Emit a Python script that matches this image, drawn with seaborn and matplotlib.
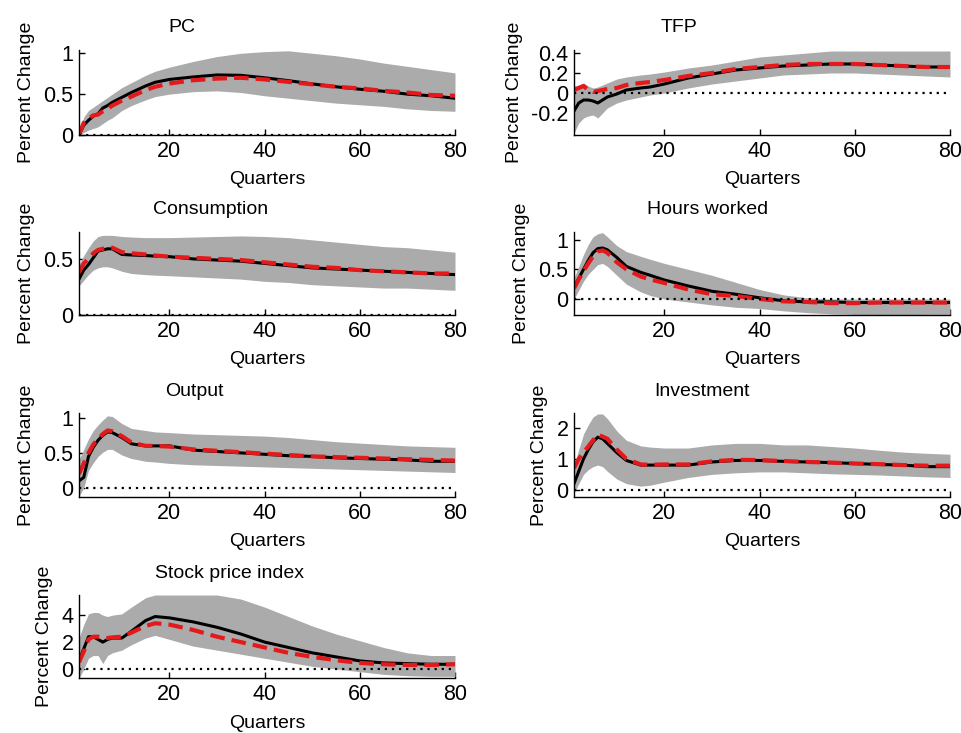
import numpy as np
import pandas as pd
import matplotlib
matplotlib.use("Agg")
import matplotlib.pyplot as plt
import matplotlib.transforms as mtransforms
from matplotlib.ticker import FuncFormatter
import seaborn as sns

# ---------------- data ----------------
quarters = [1, 2, 3, 4, 5, 6, 7, 8, 10, 12, 15, 17, 20, 25, 30, 35, 40, 45, 50, 55, 60, 65, 70, 75, 80]

pc_black = [0.0, 0.12, 0.18, 0.23, 0.26, 0.33, 0.36, 0.40, 0.46, 0.52, 0.60, 0.645, 0.68, 0.71, 0.735, 0.73, 0.70, 0.665, 0.625, 0.59, 0.56, 0.535, 0.50, 0.48, 0.45]
pc_red = [0.0, 0.15, 0.20, 0.24, 0.25, 0.29, 0.32, 0.36, 0.42, 0.47, 0.55, 0.59, 0.63, 0.67, 0.69, 0.70, 0.68, 0.65, 0.62, 0.59, 0.57, 0.54, 0.52, 0.49, 0.48]
pc_hi = [0.0, 0.22, 0.30, 0.34, 0.38, 0.42, 0.46, 0.50, 0.58, 0.64, 0.73, 0.78, 0.83, 0.90, 0.96, 1.00, 1.02, 1.03, 1.00, 0.97, 0.93, 0.88, 0.84, 0.80, 0.76]
pc_lo = [0.0, 0.03, 0.06, 0.08, 0.10, 0.14, 0.18, 0.21, 0.30, 0.36, 0.43, 0.47, 0.50, 0.53, 0.54, 0.52, 0.48, 0.45, 0.42, 0.39, 0.37, 0.35, 0.32, 0.30, 0.29]

tfp_black = [-0.18, -0.10, -0.07, -0.07, -0.08, -0.10, -0.07, -0.04, -0.01, 0.03, 0.05, 0.06, 0.09, 0.15, 0.19, 0.23, 0.25, 0.27, 0.28, 0.29, 0.29, 0.28, 0.27, 0.26, 0.26]
tfp_red = [0.03, 0.05, 0.07, 0.03, 0.01, 0.02, 0.03, 0.04, 0.05, 0.08, 0.10, 0.11, 0.13, 0.17, 0.20, 0.24, 0.26, 0.28, 0.29, 0.29, 0.29, 0.28, 0.27, 0.26, 0.26]
tfp_hi = [0.07, 0.08, 0.10, 0.07, 0.05, 0.06, 0.08, 0.10, 0.14, 0.16, 0.18, 0.19, 0.21, 0.25, 0.28, 0.32, 0.36, 0.38, 0.40, 0.42, 0.42, 0.42, 0.42, 0.42, 0.42]
tfp_lo = [-0.40, -0.30, -0.25, -0.23, -0.22, -0.25, -0.20, -0.15, -0.10, -0.07, -0.04, -0.02, 0.0, 0.05, 0.09, 0.12, 0.15, 0.18, 0.19, 0.20, 0.20, 0.19, 0.18, 0.17, 0.16]

cons_black = [0.32, 0.40, 0.45, 0.51, 0.57, 0.58, 0.59, 0.59, 0.54, 0.535, 0.53, 0.525, 0.52, 0.50, 0.49, 0.48, 0.46, 0.44, 0.42, 0.41, 0.40, 0.39, 0.38, 0.37, 0.36]
cons_red = [0.38, 0.46, 0.50, 0.55, 0.58, 0.59, 0.60, 0.60, 0.56, 0.55, 0.54, 0.53, 0.52, 0.51, 0.50, 0.49, 0.47, 0.45, 0.43, 0.42, 0.40, 0.39, 0.38, 0.37, 0.37]
cons_hi = [0.45, 0.53, 0.60, 0.66, 0.70, 0.71, 0.71, 0.71, 0.70, 0.695, 0.69, 0.69, 0.69, 0.695, 0.70, 0.705, 0.70, 0.69, 0.67, 0.65, 0.63, 0.61, 0.60, 0.58, 0.56]
cons_lo = [0.26, 0.31, 0.36, 0.40, 0.42, 0.43, 0.43, 0.42, 0.39, 0.37, 0.36, 0.355, 0.35, 0.34, 0.33, 0.32, 0.30, 0.29, 0.27, 0.26, 0.25, 0.24, 0.24, 0.23, 0.22]

hours_black = [0.20, 0.35, 0.50, 0.65, 0.78, 0.85, 0.86, 0.83, 0.70, 0.55, 0.45, 0.40, 0.32, 0.22, 0.13, 0.08, 0.02, -0.03, -0.05, -0.05, -0.06, -0.06, -0.06, -0.06, -0.06]
hours_red = [0.18, 0.33, 0.47, 0.60, 0.72, 0.80, 0.82, 0.78, 0.62, 0.50, 0.38, 0.33, 0.27, 0.16, 0.08, 0.05, 0.0, -0.04, -0.05, -0.07, -0.07, -0.06, -0.06, -0.06, -0.06]
hours_hi = [0.35, 0.55, 0.75, 0.92, 1.05, 1.10, 1.12, 1.05, 0.90, 0.80, 0.72, 0.67, 0.60, 0.50, 0.40, 0.28, 0.16, 0.07, 0.02, 0.0, 0.0, 0.0, 0.0, 0.0, 0.0]
hours_lo = [0.0, 0.15, 0.30, 0.42, 0.50, 0.58, 0.60, 0.55, 0.40, 0.25, 0.12, 0.06, 0.0, -0.05, -0.10, -0.14, -0.16, -0.20, -0.23, -0.25, -0.26, -0.27, -0.27, -0.26, -0.26]

out_black = [0.10, 0.15, 0.45, 0.58, 0.68, 0.75, 0.80, 0.79, 0.72, 0.63, 0.60, 0.60, 0.60, 0.54, 0.52, 0.50, 0.48, 0.46, 0.45, 0.43, 0.42, 0.41, 0.40, 0.38, 0.38]
out_red = [0.20, 0.35, 0.50, 0.62, 0.70, 0.77, 0.82, 0.81, 0.74, 0.65, 0.60, 0.60, 0.59, 0.55, 0.53, 0.51, 0.49, 0.47, 0.45, 0.44, 0.43, 0.42, 0.41, 0.40, 0.39]
out_hi = [0.40, 0.55, 0.70, 0.82, 0.90, 0.97, 1.03, 1.02, 0.92, 0.85, 0.82, 0.80, 0.79, 0.77, 0.76, 0.75, 0.74, 0.72, 0.69, 0.66, 0.64, 0.62, 0.60, 0.59, 0.58]
out_lo = [-0.12, 0.0, 0.25, 0.36, 0.45, 0.51, 0.55, 0.55, 0.47, 0.42, 0.38, 0.37, 0.35, 0.33, 0.32, 0.31, 0.30, 0.29, 0.28, 0.27, 0.26, 0.25, 0.24, 0.23, 0.22]

inv_black = [0.20, 0.60, 1.00, 1.30, 1.55, 1.70, 1.65, 1.50, 1.20, 0.95, 0.80, 0.80, 0.80, 0.80, 0.90, 0.95, 0.95, 0.92, 0.90, 0.88, 0.85, 0.82, 0.80, 0.75, 0.75]
inv_red = [0.70, 1.00, 1.20, 1.40, 1.60, 1.78, 1.72, 1.65, 1.30, 1.00, 0.82, 0.81, 0.82, 0.82, 0.92, 0.97, 0.96, 0.93, 0.90, 0.88, 0.85, 0.83, 0.80, 0.78, 0.78]
inv_hi = [0.80, 1.30, 1.80, 2.10, 2.35, 2.45, 2.45, 2.30, 1.90, 1.60, 1.42, 1.38, 1.35, 1.35, 1.45, 1.50, 1.50, 1.45, 1.45, 1.40, 1.35, 1.28, 1.22, 1.18, 1.15]
inv_lo = [-0.10, 0.20, 0.50, 0.65, 0.75, 0.80, 0.75, 0.60, 0.35, 0.20, 0.12, 0.15, 0.25, 0.40, 0.50, 0.55, 0.58, 0.58, 0.55, 0.52, 0.50, 0.48, 0.45, 0.42, 0.40]

stock_black = [0.6, 1.5, 2.4, 2.4, 2.2, 2.0, 2.2, 2.3, 2.3, 2.8, 3.6, 3.9, 3.8, 3.5, 3.1, 2.6, 2.0, 1.6, 1.2, 0.9, 0.6, 0.45, 0.4, 0.35, 0.35]
stock_red = [0.5, 1.3, 2.2, 2.4, 2.4, 2.35, 2.3, 2.35, 2.4, 2.7, 3.2, 3.4, 3.3, 2.9, 2.4, 2.0, 1.6, 1.2, 0.9, 0.65, 0.45, 0.35, 0.3, 0.3, 0.35]
stock_hi = [2.3, 3.3, 4.1, 4.2, 4.2, 4.0, 3.9, 4.0, 4.1, 4.6, 5.3, 5.5, 5.5, 5.5, 5.5, 5.2, 4.6, 3.9, 3.2, 2.6, 2.1, 1.6, 1.2, 1.0, 1.0]
stock_lo = [-0.7, 0.0, 0.8, 1.0, 1.0, 0.4, 1.0, 1.2, 1.4, 1.8, 2.3, 2.5, 2.2, 1.7, 1.4, 1.1, 0.8, 0.5, 0.2, 0.0, -0.2, -0.4, -0.5, -0.55, -0.55]

titles = ["PC", "TFP", "Consumption", "Hours worked", "Output", "Investment", "Stock price index"]
x_ticks = [20, 40, 60, 80]
y_ticks = [[0, 0.5, 1], [-0.2, 0, 0.2, 0.4], [0, 0.5], [0, 0.5, 1], [0, 0.5, 1], [0, 1, 2], [0, 2, 4]]
y_limits = [(0, 1.04), (-0.42, 0.43), (0, 0.74), (-0.27, 1.13), (-0.13, 1.07), (-0.23, 2.48), (-0.67, 5.5)]
x_label = "Quarters"
y_label = "Percent Change"

panels = [
    (pc_black, pc_red, pc_lo, pc_hi),
    (tfp_black, tfp_red, tfp_lo, tfp_hi),
    (cons_black, cons_red, cons_lo, cons_hi),
    (hours_black, hours_red, hours_lo, hours_hi),
    (out_black, out_red, out_lo, out_hi),
    (inv_black, inv_red, inv_lo, inv_hi),
    (stock_black, stock_red, stock_lo, stock_hi),
]

# ---------------- style ----------------
sns.set_theme(style="ticks")
plt.rcParams["font.family"] = ["Liberation Sans", "DejaVu Sans"]
plt.rcParams["axes.unicode_minus"] = False

W, H = 961, 733
fig = plt.figure(figsize=(W / 100, H / 100), dpi=100)
fig.patch.set_facecolor("white")

# axes boxes in pixels: (left, right) and (top, bottom)
cols = [(79, 455), (574, 950)]
rows = [(50, 135), (232, 315), (413, 497), (595, 678)]
title_pos = [0.274, 0.28, 0.35, 0.356, 0.306, 0.34, 0.40]

FS = 14
TFS = 15.5
band_color = "#ababab"

for i, (blk, red, lo, hi) in enumerate(panels):
    r, c = divmod(i, 2)
    l, rgt = cols[c]
    t, b = rows[r]
    ax = fig.add_axes([l / W, 1 - b / H, (rgt - l) / W, (b - t) / H])
    ax.set_facecolor("white")

    df = pd.DataFrame({"q": quarters, "black": blk, "red": red, "lo": lo, "hi": hi})
    ax.fill_between(df["q"], df["lo"], df["hi"], color=band_color, lw=0, zorder=1)
    sns.lineplot(data=df, x="q", y="black", color="black", lw=2.2, ax=ax, zorder=3)
    sns.lineplot(data=df, x="q", y="red", color="#e3191b", lw=3,
                 linestyle=(0, (3.5, 1.7)), ax=ax, zorder=4)
    ax.plot([1, 80], [0, 0], color="black", lw=1.6, linestyle=(0, (1, 2.2)), zorder=5)

    ax.set_xlim(1, 80)
    ax.set_ylim(*y_limits[i])
    ax.set_xticks(x_ticks)
    ax.set_yticks(y_ticks[i])
    ax.yaxis.set_major_formatter(FuncFormatter(lambda v, p: f"{v:g}"))
    ax.tick_params(direction="in", length=4, width=1, labelsize=TFS, pad=4, colors="black")
    for s in ["top", "right"]:
        ax.spines[s].set_visible(False)
    for s in ["left", "bottom"]:
        ax.spines[s].set_linewidth(1)
        ax.spines[s].set_color("black")
        ax.spines[s].set_zorder(6)

    ax.set_xlabel(x_label, fontsize=FS, color="black")
    trans = mtransforms.offset_copy(ax.transAxes, fig=fig, x=0, y=-45, units="dots")
    ax.xaxis.set_label_coords(0.5, 0, transform=trans)
    ax.xaxis.label.set_va("center")
    ax.set_ylabel(y_label, fontsize=FS, color="black", labelpad=6)

    ax.annotate(titles[i], xy=(title_pos[i], 1), xycoords="axes fraction",
                xytext=(0, 22), textcoords="offset pixels",
                ha="center", va="center", fontsize=FS, color="black")

fig.savefig("out.png", dpi=100, facecolor="white")
